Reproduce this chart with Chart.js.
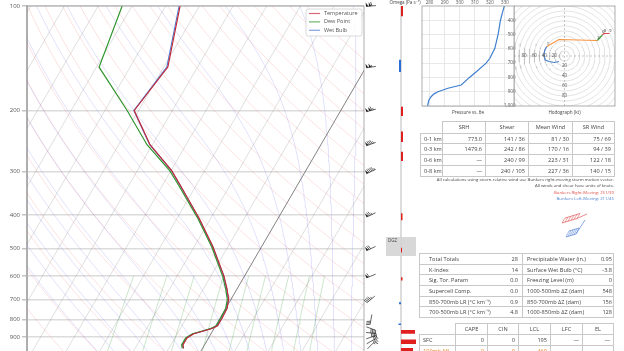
<!DOCTYPE html>
<html>
<head>
<meta charset="utf-8">
<script src="https://cdn.jsdelivr.net/npm/chart.js@4.4.1/dist/chart.umd.min.js"></script>
<style>
  html, body { margin: 0; padding: 0; background: #fff; }
  body { width: 624px; height: 351px; overflow: hidden; position: relative; font-family: 'Open Sans', sans-serif; color: #444; }
  canvas { position: absolute; }
  table { position: absolute; border-collapse: collapse; table-layout: fixed; font-size: 5.6px; }
  td { border: 1px solid #c8c8c8; padding: 0 3px; white-space: nowrap; overflow: hidden; box-sizing: border-box; }
  td.blank { border: none; }
  .note { position: absolute; right: 10px; font-size: 4.3px; line-height: 6px; text-align: right; white-space: nowrap; }
</style>
</head>
<body>
<canvas id="skew" width="390" height="366" style="left:0;top:0"></canvas>
<canvas id="omega" width="55" height="366" style="left:375px;top:0"></canvas>
<canvas id="theta" width="105" height="120" style="left:415px;top:0"></canvas>
<canvas id="hodo" width="110" height="120" style="left:514px;top:0"></canvas>
<canvas id="motion" width="34" height="30" style="left:556px;top:210px"></canvas>

<table id="shearTable" style="left:420px;top:121px;width:194px"></table>
<div class="note" style="top:176px">All calculations using storm-relative wind use Bunkers right-moving storm motion vector.</div>
<div class="note" style="top:182px">All winds and shear have units of knots.</div>
<div class="note" style="top:188.5px;color:#e0504a">Bunkers Right-Moving: 251/39</div>
<div class="note" style="top:194.5px;color:#4a7fd0">Bunkers Left-Moving: 211/45</div>
<table id="indexTable" style="left:419px;top:253px;width:194px"></table>
<table id="parcelTable" style="left:419px;top:323px;width:194px"></table>

<script>
// sounding profile (hPa, degC)
const pressure = [970, 947, 905, 880, 868, 850, 835, 794, 744, 700, 653, 600, 493, 410, 328, 298, 251, 200, 150, 100];
const temperature = [-5.6, -6.4, -6.4, -5.1, -3.3, -0.6, 0.6, 0.6, 0.4, -0.7, -3.0, -6.1, -14.5, -23.3, -34.8, -39.8, -50.7, -61.3, -58.8, -65.7];
const dewpoint = [-6.0, -6.8, -6.8, -5.5, -3.7, -1.0, 0.2, 0.2, 0.0, -1.1, -3.4, -6.5, -14.9, -23.7, -35.3, -40.4, -51.6, -63.4, -79.2, -82.9];
const wetBulb = [-5.7, -6.5, -6.5, -5.2, -3.4, -0.7, 0.5, 0.5, 0.3, -0.8, -3.1, -6.2, -14.6, -23.4, -34.9, -39.9, -50.8, -61.4, -59.1, -66.0];
const pressureTicks = [100, 200, 300, 400, 500, 600, 700, 800, 900, 1000];

// wind barbs (hPa, kt, deg)
const windP = [100, 150, 200, 250, 300, 400, 500, 600, 700, 800, 850, 875, 900, 925, 950];
const windSpd = [110, 105, 115, 85, 95, 75, 70, 60, 45, 30, 40, 38, 32, 25, 15];
const windDir = [265, 262, 255, 250, 245, 245, 245, 248, 230, 190, 110, 95, 70, 60, 45];

// omega layers (hPa top, hPa bottom, Pa/s)
const omegaTop = [100, 142, 193, 227, 259, 387, 485, 588, 692, 795, 830, 883, 933];
const omegaBot = [107, 154, 205, 243, 275, 405, 500, 601, 701, 803, 850, 909, 960];
const omegaVal = [0.2, -0.2, 0.2, 0.2, 0.2, 0.15, 0.1, 0.15, -0.2, -0.25, 1.4, 1.7, 1.2];
const dgzLayer = [452, 512];

// theta-e profile
const thetaP = [1005, 960, 935, 915, 900, 876, 853, 800, 760, 700, 666, 596, 491, 400, 351, 300];
const thetaE = [278.6, 279.5, 281, 283, 285.6, 292.2, 301, 306.5, 311, 317.5, 320, 323.3, 325.6, 327, 328.2, 329.6];
const thetaTicks = [280, 290, 300, 310, 320, 330];
const thetaPTicks = [400, 500, 600, 700, 800, 900, 1000];

// hodograph (kt) and heights (km)
const hodoU = [-11, -20, -31, -38, -41, -39, -35, -11, 65, 75, 78, 89];
const hodoV = [-11, -13, -11, -8, 2, 12, 19, 33, 31, 42, 45, 45];
const hodoH = [0, 0.1, 0.25, 0.4, 0.6, 0.8, 1, 1.5, 3, 6, 8, 9];
const hodoLabels = [1, 3, 6, 8, 9];
const ringLabels = [20, 40, 60, 80];

// tables
const shearRows = ['0-1 km', '0-3 km', '0-6 km', '0-8 km'];
const shearCols = ['SRH', 'Shear', 'Mean Wind', 'SR Wind'];
const srh = ['773.0', '1479.6', '\u2014', '\u2014'];
const bulkShear = ['141 / 36', '242 / 86', '240 / 99', '240 / 105'];
const meanWind = ['81 / 30', '170 / 16', '223 / 31', '227 / 36'];
const srWind = ['75 / 69', '94 / 39', '122 / 18', '140 / 15'];

const idxLeftNames = ['Total Totals', 'K-Index', 'Sig. Tor. Param', 'Supercell Comp.', '850-700mb LR (\u00B0C km\u207B\u00B9)', '700-500mb LR (\u00B0C km\u207B\u00B9)'];
const idxLeftVals = ['28', '14', '0.0', '0.0', '0.9', '4.8'];
const idxRightNames = ['Precipitable Water (in.)', 'Surface Wet Bulb (\u00B0C)', 'Freezing Level (m)', '1000-500mb \u0394Z (dam)', '850-700mb \u0394Z (dam)', '1000-850mb \u0394Z (dam)'];
const idxRightVals = ['0.95', '-3.8', '0', '548', '156', '128'];

const parcelCols = ['CAPE', 'CIN', 'LCL', 'LFC', 'EL'];
const parcelNames = ['SFC', '100mb ML'];
const parcelVals = [['0', '0', '195', '\u2014', '\u2014'], ['0', '0', '469', '\u2014', '\u2014']];

const TEMP_C = 'rgb(196,42,58)', DEW_C = 'rgb(46,150,46)', WB_C = 'rgb(78,122,208)';
const FONT = "'Open Sans', sans-serif";
Chart.defaults.font.family = FONT;
Chart.defaults.color = '#555';

// skew-T transform
const SKEW = 26, P_BOT = 1050, P_TOP = 100;
const skewX = (t, p) => t + SKEW * Math.log(P_BOT / p);

function lineSet(pts, color, width, order, dash) {
  return { data: pts, borderColor: color, borderWidth: width, borderDash: dash || [], pointRadius: 0,
    showLine: true, fill: false, tension: 0, order: order };
}

const bgSets = [];
// isotherms
for (let t = -160; t <= 50; t += 10) {
  bgSets.push(lineSet([{ x: skewX(t, P_BOT), y: P_BOT }, { x: skewX(t, P_TOP), y: P_TOP }],
    t === 0 ? 'rgba(90,90,90,0.75)' : 'rgba(110,110,110,0.28)', t === 0 ? 1 : 0.8, t === 0 ? 5 : 10));
}
// dry adiabats
for (let t0 = -40; t0 <= 200; t0 += 10) {
  const pts = [];
  for (let p = P_BOT; p >= P_TOP; p -= 10) {
    const t = (t0 + 273.15) * Math.pow(p / 1000, 0.2857) - 273.15;
    pts.push({ x: skewX(t, p), y: p });
  }
  bgSets.push(lineSet(pts, 'rgba(235,70,70,0.2)', 0.8, 10));
}
// moist adiabats
function moistRate(T, p) {
  const es = 6.112 * Math.exp(17.67 * (T - 273.15) / (T - 29.65));
  const rs = 0.622 * es / (p - es);
  const Rd = 287.04, Cp = 1005.7, Lv = 2.501e6;
  return (Rd * T + Lv * rs) / (p * (Cp + Lv * Lv * rs * 0.622 / (Rd * T * T)));
}
function integrate(T, p0, p1, dp) {
  const out = [];
  let p = p0;
  while ((dp < 0 && p >= p1) || (dp > 0 && p <= p1)) {
    out.push({ x: skewX(T - 273.15, p), y: p });
    const k1 = moistRate(T, p), k2 = moistRate(T + k1 * dp / 2, p + dp / 2);
    const k3 = moistRate(T + k2 * dp / 2, p + dp / 2), k4 = moistRate(T + k3 * dp, p + dp);
    T += dp * (k1 + 2 * k2 + 2 * k3 + k4) / 6;
    p += dp;
  }
  return out;
}
for (let t0 = -30; t0 <= 45; t0 += 5) {
  const up = integrate(t0 + 273.15, 1000, P_TOP, -10);
  const down = integrate(t0 + 273.15, 1000, P_BOT, 10);
  bgSets.push(lineSet(down.reverse().concat(up), 'rgba(70,70,235,0.2)', 0.8, 10));
}
// mixing ratio lines
[0.0004, 0.001, 0.002, 0.004, 0.007, 0.01, 0.016, 0.024, 0.032].forEach(w => {
  const pts = [];
  for (let p = P_BOT; p >= 600; p -= 25) {
    const e = w * p / (0.622 + w);
    const l = Math.log(e / 6.112);
    const td = 243.5 * l / (17.67 - l);
    pts.push({ x: skewX(td, p), y: p });
  }
  bgSets.push(lineSet(pts, 'rgba(40,150,40,0.3)', 0.8, 10));
});

const profile = (vals) => pressure.map((p, i) => ({ x: skewX(vals[i], p), y: p }));

const frame = {
  id: 'frame',
  afterDatasetsDraw(chart) {
    const { ctx, chartArea: a } = chart;
    ctx.save();
    ctx.strokeStyle = '#9a9a9a';
    ctx.lineWidth = 0.8;
    ctx.strokeRect(a.left, a.top, a.right - a.left, a.bottom - a.top);
    ctx.restore();
  }
};

const legendBox = {
  id: 'legendBox',
  afterDraw(chart) {
    const { ctx, chartArea: a } = chart;
    const x = a.right - 58, y = a.top + 3, w = 56, h = 27;
    ctx.save();
    ctx.fillStyle = 'rgba(255,255,255,0.9)';
    ctx.strokeStyle = '#d0d0d0';
    ctx.lineWidth = 0.8;
    ctx.beginPath();
    ctx.roundRect(x, y, w, h, 2);
    ctx.fill();
    ctx.stroke();
    const items = [['Temperature', TEMP_C], ['Dew Point', DEW_C], ['Wet Bulb', WB_C]];
    ctx.font = '5.5px ' + FONT;
    ctx.textBaseline = 'middle';
    items.forEach((it, i) => {
      const yy = y + 4.5 + i * 8.4;
      ctx.strokeStyle = it[1];
      ctx.globalAlpha = 0.7;
      ctx.lineWidth = 1.2;
      ctx.beginPath();
      ctx.moveTo(x + 3, yy);
      ctx.lineTo(x + 14, yy);
      ctx.stroke();
      ctx.globalAlpha = 1;
      ctx.fillStyle = '#555';
      ctx.fillText(it[0], x + 18, yy);
    });
    ctx.restore();
  }
};

function drawBarb(ctx, cx, cy, spd, dir) {
  const L = 10, a = dir * Math.PI / 180;
  const ux = Math.sin(a), uy = -Math.cos(a);
  const bx = cx - ux * L / 2, by = cy - uy * L / 2;
  const tx = cx + ux * L / 2, ty = cy + uy * L / 2;
  const px = -uy, py = ux;
  ctx.beginPath();
  ctx.moveTo(bx, by);
  ctx.lineTo(tx, ty);
  ctx.stroke();
  let s = Math.round(spd / 5) * 5, d = 0;
  while (s >= 50) {
    ctx.beginPath();
    ctx.moveTo(tx - ux * d, ty - uy * d);
    ctx.lineTo(tx - ux * d + px * 4, ty - uy * d + py * 4);
    ctx.lineTo(tx - ux * (d + 2.4), ty - uy * (d + 2.4));
    ctx.closePath();
    ctx.fill();
    d += 3;
    s -= 50;
  }
  while (s >= 10) {
    ctx.beginPath();
    ctx.moveTo(tx - ux * d, ty - uy * d);
    ctx.lineTo(tx - ux * (d - 1) + px * 4, ty - uy * (d - 1) + py * 4);
    ctx.stroke();
    d += 1.6;
    s -= 10;
  }
  if (s >= 5) {
    ctx.beginPath();
    ctx.moveTo(tx - ux * d, ty - uy * d);
    ctx.lineTo(tx - ux * (d - 0.5) + px * 2, ty - uy * (d - 0.5) + py * 2);
    ctx.stroke();
  }
}

const barbs = {
  id: 'barbs',
  afterDraw(chart) {
    const { ctx, chartArea: a, scales } = chart;
    ctx.save();
    ctx.strokeStyle = '#222';
    ctx.fillStyle = '#222';
    ctx.lineWidth = 0.7;
    windP.forEach((p, i) => {
      drawBarb(ctx, a.right + 7, scales.y.getPixelForValue(p), windSpd[i], windDir[i]);
    });
    ctx.restore();
  }
};

const common = { responsive: false, animation: false, devicePixelRatio: 1, events: [] };

new Chart(document.getElementById('skew'), {
  type: 'scatter',
  data: {
    datasets: [
      lineSet(profile(temperature), TEMP_C, 1.2, 0),
      lineSet(profile(dewpoint), DEW_C, 1.2, 1),
      lineSet(profile(wetBulb), WB_C, 1.1, 2)
    ].concat(bgSets)
  },
  options: Object.assign({}, common, {
    layout: { padding: { top: 6, right: 26, left: 0, bottom: 0 } },
    plugins: { legend: { display: false }, tooltip: { enabled: false } },
    scales: {
      x: { type: 'linear', min: -50, max: 50, display: false },
      y: {
        type: 'logarithmic', reverse: true, min: P_TOP, max: P_BOT,
        afterBuildTicks: s => { s.ticks = pressureTicks.map(v => ({ value: v })); },
        afterFit: s => { s.width = 27; },
        ticks: { callback: v => String(v), color: '#555', font: { size: 6 }, padding: 2, autoSkip: false },
        grid: { color: '#dcdcdc', lineWidth: 1.5, tickLength: 5, tickColor: '#c4c4c4' },
        border: { color: '#bdbdbd', width: 2 }
      }
    }
  }),
  plugins: [frame, legendBox, barbs]
});

// omega column
const omegaSets = omegaVal.map((v, i) => ({
  data: [{ x: 0, y: omegaTop[i] }, { x: v, y: omegaTop[i] }, { x: v, y: omegaBot[i] }, { x: 0, y: omegaBot[i] }],
  showLine: true, fill: 'shape', borderWidth: 0, pointRadius: 0, tension: 0, order: 0,
  backgroundColor: v >= 0 ? '#e0201e' : '#2a6fd6', borderColor: 'rgba(0,0,0,0)'
}));
const omegaLabels = {
  id: 'omegaLabels',
  afterDraw(chart) {
    const { ctx, chartArea: a, scales } = chart;
    ctx.save();
    ctx.fillStyle = '#444';
    ctx.font = '4.5px ' + FONT;
    ctx.textAlign = 'center';
    ctx.textBaseline = 'middle';
    ctx.fillText('Omega (Pa s\u207B\u00B9)', a.left + 19, 2.5);
    ctx.textAlign = 'left';
    ctx.fillText('DGZ', a.left + 2, scales.y.getPixelForValue(dgzLayer[0]) + 3.5);
    ctx.restore();
  }
};
new Chart(document.getElementById('omega'), {
  type: 'scatter',
  data: {
    datasets: omegaSets.concat([
      { data: [{ x: 0, y: P_TOP }, { x: 0, y: P_BOT }], showLine: true, borderColor: '#d4d4d4', borderWidth: 1.6, pointRadius: 0, order: 5 },
      { data: [{ x: -1.5, y: dgzLayer[0] }, { x: 1.5, y: dgzLayer[0] }, { x: 1.5, y: dgzLayer[1] }, { x: -1.5, y: dgzLayer[1] }],
        showLine: true, fill: 'shape', backgroundColor: 'rgba(200,200,200,0.7)', borderWidth: 0, pointRadius: 0, order: 8 }
    ])
  },
  options: Object.assign({}, common, {
    layout: { padding: { top: 6, right: 14, left: 11, bottom: 0 } },
    plugins: { legend: { display: false }, tooltip: { enabled: false } },
    scales: {
      x: { type: 'linear', min: -1.5, max: 1.5, display: false },
      y: { type: 'logarithmic', reverse: true, min: P_TOP, max: P_BOT, display: false }
    }
  }),
  plugins: [omegaLabels]
});

// theta-e panel
const panelTitle = (text) => ({
  id: 'panelTitle',
  afterDraw(chart) {
    const { ctx, chartArea: a } = chart;
    ctx.save();
    ctx.fillStyle = '#444';
    ctx.font = '4.6px ' + FONT;
    ctx.textAlign = 'center';
    ctx.textBaseline = 'middle';
    ctx.fillText(text, (a.left + a.right) / 2, a.bottom + 6.5);
    ctx.restore();
  }
});
new Chart(document.getElementById('theta'), {
  type: 'scatter',
  data: { datasets: [lineSet(thetaP.map((p, i) => ({ x: thetaE[i], y: p })), '#3f7fcf', 1.2, 0)] },
  options: Object.assign({}, common, {
    layout: { padding: { top: 0, right: 6, left: 7, bottom: 14 } },
    plugins: { legend: { display: false }, tooltip: { enabled: false } },
    scales: {
      x: {
        type: 'linear', position: 'top', min: 275, max: 336,
        afterBuildTicks: s => { s.ticks = thetaTicks.map(v => ({ value: v })); },
        afterFit: s => { s.height = 6; },
        ticks: { font: { size: 4.5 }, color: '#555', padding: 0.5, maxRotation: 0 },
        grid: { color: '#e2e2e2', lineWidth: 0.8, tickLength: 0 },
        border: { display: false }
      },
      y: {
        type: 'linear', position: 'right', reverse: true, min: 300, max: 1000,
        afterBuildTicks: s => { s.ticks = thetaPTicks.map(v => ({ value: v })); },
        afterFit: s => { s.width = 0; },
        ticks: { mirror: true, font: { size: 4.5 }, color: '#555', padding: 1.5 },
        grid: { color: '#e2e2e2', lineWidth: 0.8, tickLength: 0 },
        border: { display: false }
      }
    }
  }),
  plugins: [frame, panelTitle('Pressure vs. \u03B8e')]
});

// hodograph
const hodoColor = (h) => h < 1 ? '#4a80c8' : h < 3 ? '#f5923e' : h < 6 ? '#3a9a3a' : '#e04a4a';
const ringSets = [];
for (let r = 10; r <= 140; r += 10) {
  const pts = [];
  for (let a = 0; a <= 360; a += 4) pts.push({ x: r * Math.cos(a * Math.PI / 180), y: r * Math.sin(a * Math.PI / 180) });
  ringSets.push(lineSet(pts, 'rgba(150,150,150,0.45)', 0.6, 10));
}
ringSets.push(lineSet([{ x: -100, y: 0 }, { x: 100, y: 0 }], 'rgba(120,120,120,0.7)', 0.6, 9, [2, 2]));
ringSets.push(lineSet([{ x: 0, y: -100 }, { x: 0, y: 100 }], 'rgba(120,120,120,0.7)', 0.6, 9, [2, 2]));
const hodoText = {
  id: 'hodoText',
  afterDraw(chart) {
    const { ctx, scales } = chart;
    ctx.save();
    ctx.font = '4.5px ' + FONT;
    ctx.textAlign = 'center';
    ctx.textBaseline = 'middle';
    ctx.fillStyle = '#555';
    ringLabels.forEach(r => {
      ctx.fillText(String(r), scales.x.getPixelForValue(-r), scales.y.getPixelForValue(0));
      ctx.fillText(String(r), scales.x.getPixelForValue(0), scales.y.getPixelForValue(-r));
    });
    ctx.fillStyle = '#333';
    ctx.font = '4px ' + FONT;
    hodoLabels.forEach(h => {
      const i = hodoH.indexOf(h);
      ctx.fillText(String(h), scales.x.getPixelForValue(hodoU[i]) + 1, scales.y.getPixelForValue(hodoV[i]) - 3);
    });
    ctx.restore();
  }
};
new Chart(document.getElementById('hodo'), {
  type: 'scatter',
  data: {
    datasets: [{
      data: hodoU.map((u, i) => ({ x: u, y: hodoV[i] })), showLine: true, pointRadius: 0, borderWidth: 1.2, tension: 0, order: 0,
      borderColor: '#4a80c8',
      segment: { borderColor: c => hodoColor(hodoH[c.p0DataIndex]) }
    }].concat(ringSets)
  },
  options: Object.assign({}, common, {
    layout: { padding: { top: 6, right: 9, left: 0, bottom: 14 } },
    plugins: { legend: { display: false }, tooltip: { enabled: false } },
    scales: {
      x: { type: 'linear', min: -100, max: 100, display: false },
      y: { type: 'linear', min: -100, max: 100, display: false }
    }
  }),
  plugins: [frame, hodoText, panelTitle('Hodograph (kt)')]
});

// storm motion glyph
const glyphSets = [];
for (let k = 0; k < 6; k++) {
  glyphSets.push(lineSet([{ x: 6 + k * 3, y: 13 - k * 0.9 }, { x: 9 + k * 3, y: 8 - k * 0.9 }], 'rgba(224,70,70,0.85)', 0.6, 0));
  glyphSets.push(lineSet([{ x: 10 + k * 2, y: 27 - k * 0.6 }, { x: 13 + k * 2, y: 21 - k * 0.6 }], 'rgba(70,120,210,0.85)', 0.6, 0));
}
glyphSets.push(lineSet([{ x: 6, y: 13 }, { x: 21, y: 8.5 }, { x: 31, y: 4 }], 'rgba(224,70,70,0.9)', 0.7, 0));
glyphSets.push(lineSet([{ x: 9, y: 8 }, { x: 24, y: 3.5 }], 'rgba(224,70,70,0.9)', 0.7, 0));
glyphSets.push(lineSet([{ x: 10, y: 27 }, { x: 20, y: 24 }, { x: 29, y: 10 }], 'rgba(70,120,210,0.9)', 0.7, 0));
glyphSets.push(lineSet([{ x: 13, y: 21 }, { x: 23, y: 18 }], 'rgba(70,120,210,0.9)', 0.7, 0));
new Chart(document.getElementById('motion'), {
  type: 'scatter',
  data: { datasets: glyphSets },
  options: Object.assign({}, common, {
    plugins: { legend: { display: false }, tooltip: { enabled: false } },
    scales: {
      x: { type: 'linear', min: 0, max: 34, display: false },
      y: { type: 'linear', min: 0, max: 30, reverse: true, display: false }
    }
  })
});

// tables
function cell(tr, text, style) {
  const td = document.createElement('td');
  td.textContent = text;
  if (style) td.setAttribute('style', style);
  tr.appendChild(td);
  return td;
}
(function () {
  const t = document.getElementById('shearTable');
  const widths = [22, 43, 43, 44, 42];
  let tr = t.insertRow();
  tr.style.height = '11.6px';
  cell(tr, '', 'width:' + widths[0] + 'px').className = 'blank';
  shearCols.forEach((c, j) => cell(tr, c, 'text-align:center;width:' + widths[j + 1] + 'px'));
  shearRows.forEach((r, i) => {
    tr = t.insertRow();
    tr.style.height = '10.9px';
    cell(tr, r, 'text-align:left');
    [srh, bulkShear, meanWind, srWind].forEach(col => cell(tr, col[i], 'text-align:right'));
  });

  const t2 = document.getElementById('indexTable');
  idxLeftNames.forEach((n, i) => {
    const row = t2.insertRow();
    row.style.height = '10.7px';
    cell(row, n, 'border-right:none;padding-left:9px;width:80px');
    cell(row, idxLeftVals[i], 'border-left:none;text-align:right;padding-right:4px;width:23px');
    cell(row, idxRightNames[i], 'border-right:none;padding-left:4px;width:70px');
    cell(row, idxRightVals[i], 'border-left:none;text-align:right;padding-right:1px;width:21px');
  });

  const t3 = document.getElementById('parcelTable');
  const pw = [36, 32, 31, 32, 32, 31];
  let row = t3.insertRow();
  row.style.height = '11px';
  cell(row, '', 'width:' + pw[0] + 'px').className = 'blank';
  parcelCols.forEach((c, j) => cell(row, c, 'text-align:center;width:' + pw[j + 1] + 'px'));
  parcelNames.forEach((n, i) => {
    row = t3.insertRow();
    row.style.height = '11px';
    const col = i === 1 ? 'color:#f28a2e;' : '';
    cell(row, n, col + 'text-align:left');
    parcelVals[i].forEach(v => cell(row, v, col + 'text-align:right'));
  });
})();
</script>
</body>
</html>
